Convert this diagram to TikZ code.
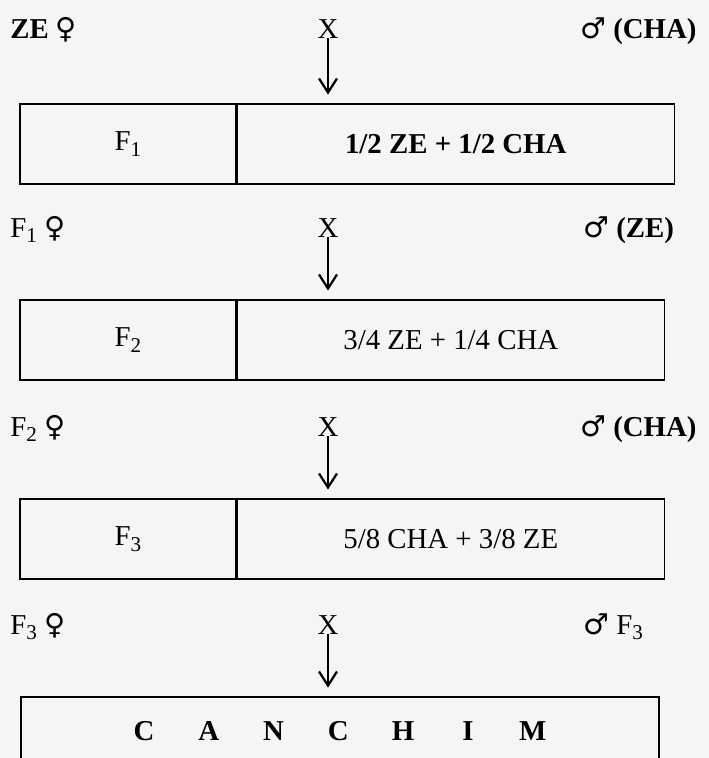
\documentclass[tikz,border=0pt]{standalone}
\usepackage{fontspec}
\setmainfont{Liberation Serif}
\newfontfamily\symfont{DejaVu Sans}
\usetikzlibrary{arrows.meta}

\newcommand{\fem}{{\symfont ♀}}
\newcommand{\masc}{{\symfont ♂}}
\newcommand{\gen}[1]{F\raisebox{-0.45ex}{\fontsize{15}{15}\selectfont #1}}

\begin{document}
\begin{tikzpicture}[
    >={Straight Barb[length=3.5mm,width=4.5mm]},
    font=\fontsize{20.5}{24}\selectfont,
    cell/.style={
        draw,
        line width=0.9pt,
        minimum height=2cm,
        inner sep=0pt
    },
    lbl/.style={inner sep=0pt, anchor=base west},
    cross/.style={inner sep=0pt, anchor=base},
    arr/.style={
        ->,
        line width=1.6pt,
        shorten >=2.2mm
    }
]
    \clip (0,0) rectangle (17.725,-18.95);
    \fill[black!4] (0,0) rectangle (17.725,-18.95);

    % ZE x CHA
    \node[lbl] (mom1) at (0.25,-0.95) {\textbf{ZE} \fem};
    \node[cross] (x1) at (8.2,-0.95) {X};
    \node[lbl] (dad1) at (14.5,-0.95) {\masc\ \textbf{(CHA)}};
    \node[cell, minimum width=5.4cm] (f1) at (3.2,-3.6) {\gen{1}};
    \node[cell, minimum width=10.925cm, anchor=west] (r1) at (f1.east)
        {\textbf{1/2 ZE + 1/2 CHA}};
    \draw[arr] (x1.south) -- (x1 |- r1.north);

    % F1 x ZE
    \node[lbl] (mom2) at (0.25,-5.925) {\gen{1} \fem};
    \node[cross] (x2) at (8.2,-5.925) {X};
    \node[lbl] (dad2) at (14.575,-5.925) {\masc\ \textbf{(ZE)}};
    \node[cell, minimum width=5.4cm] (f2) at (3.2,-8.5) {\gen{2}};
    \node[cell, minimum width=10.675cm, anchor=west] (r2) at (f2.east)
        {3/4 ZE + 1/4 CHA};
    \draw[arr] (x2.south) -- (x2 |- r2.north);

    % F2 x CHA
    \node[lbl] (mom3) at (0.25,-10.9) {\gen{2} \fem};
    \node[cross] (x3) at (8.2,-10.9) {X};
    \node[lbl] (dad3) at (14.5,-10.9) {\masc\ \textbf{(CHA)}};
    \node[cell, minimum width=5.4cm] (f3) at (3.2,-13.475) {\gen{3}};
    \node[cell, minimum width=10.675cm, anchor=west] (r3) at (f3.east)
        {5/8 CHA + 3/8 ZE};
    \draw[arr] (x3.south) -- (x3 |- r3.north);

    % F3 x F3
    \node[lbl] (mom4) at (0.25,-15.85) {\gen{3} \fem};
    \node[cross] (x4) at (8.2,-15.85) {X};
    \node[lbl] (dad4) at (14.575,-15.85) {\masc\ \gen{3}};
    \node[cell, minimum width=15.95cm] (r4) at (8.5,-18.425) {};
    \foreach \ch [count=\i] in {C,A,N,C,H,I,M}
        \node[inner sep=0pt] (c\i) at ({3.6+1.62*(\i-1)},-18.275) {\textbf{\ch}};
    \draw[arr] (x4.south) -- (x4 |- r4.north);

\end{tikzpicture}
\end{document}
